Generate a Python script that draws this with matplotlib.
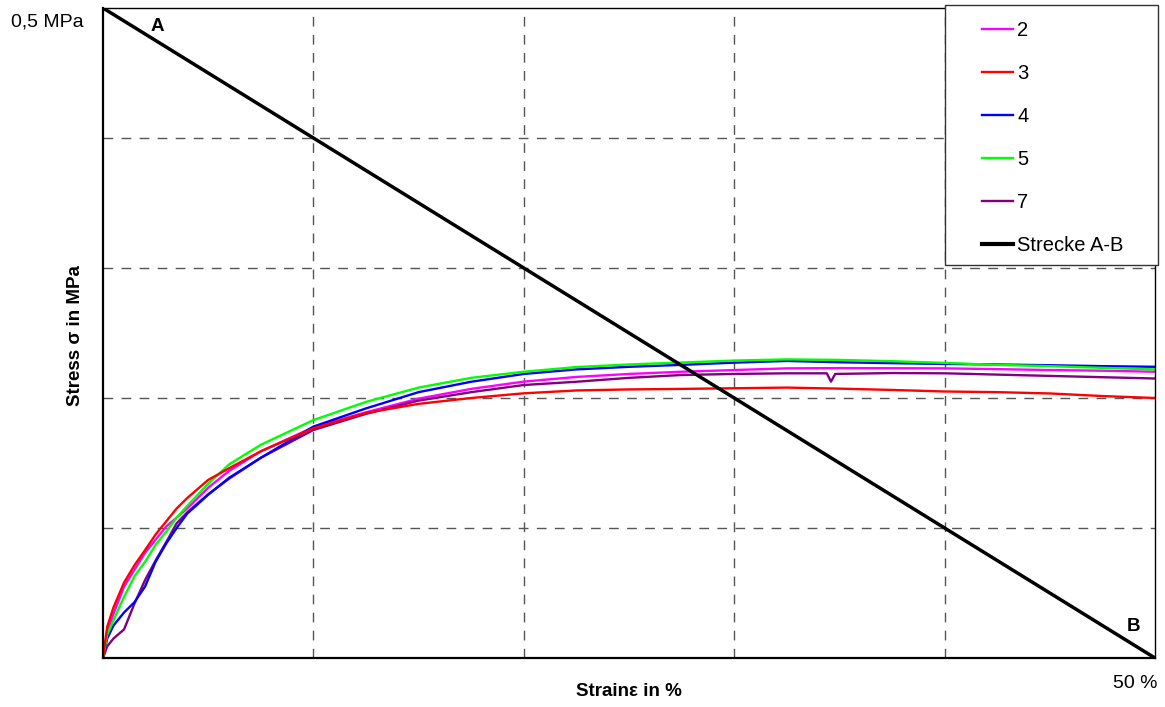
import matplotlib
matplotlib.use("Agg")
import matplotlib.pyplot as plt
from matplotlib.lines import Line2D
from matplotlib.patches import Rectangle

plt.rcParams["font.family"] = ["Liberation Sans", "DejaVu Sans"]

# Dehnung in %
strain = [0, 0.2, 0.5, 1, 1.5, 2, 2.5, 3, 3.5, 4, 5, 6, 7.5, 10, 12.5, 15, 17.5,
          20, 22.5, 25, 27.5, 30, 32.5, 35, 37.5, 40, 42.5, 45, 47.5, 50]

# Spannung in MPa je Probe
stress_2 = [0, 0.020, 0.034, 0.055, 0.068, 0.081, 0.091, 0.101, 0.108, 0.115,
            0.131, 0.144, 0.159, 0.1775, 0.189, 0.1995, 0.207, 0.2126, 0.2162,
            0.2185, 0.2202, 0.2215, 0.2228, 0.223, 0.2229, 0.2228, 0.2222,
            0.2215, 0.221, 0.2202]
stress_3 = [0, 0.024, 0.039, 0.058, 0.0715, 0.083, 0.095, 0.105, 0.115, 0.123,
            0.137, 0.146, 0.159, 0.1767, 0.1885, 0.1955, 0.200, 0.2036, 0.2058,
            0.2066, 0.207, 0.2075, 0.208, 0.2072, 0.2062, 0.205, 0.2045,
            0.2035, 0.2015, 0.200]
stress_4 = [0, 0.015, 0.025, 0.035, 0.043, 0.055, 0.074, 0.088, 0.100, 0.111,
            0.1256, 0.1387, 0.154, 0.178, 0.192, 0.2045, 0.2125, 0.2185, 0.222,
            0.224, 0.2255, 0.2272, 0.2285, 0.2275, 0.2268, 0.2262, 0.2258,
            0.2252, 0.2245, 0.224]
stress_5 = [0, 0.018, 0.029, 0.047, 0.063, 0.074, 0.087, 0.097, 0.108, 0.117,
            0.134, 0.149, 0.164, 0.183, 0.197, 0.208, 0.2155, 0.2202, 0.2238,
            0.2258, 0.2273, 0.2288, 0.2297, 0.2293, 0.2283, 0.227, 0.2255,
            0.2245, 0.2232, 0.222]

# Probe 7 mit kurzem Einbruch bei ca. 34,6 %
strain_7 = [0, 0.2, 0.5, 1, 1.5, 2, 2.5, 3, 3.5, 4, 5, 6, 7.5, 10, 12.5, 15, 17.5,
            20, 22.5, 25, 27.5, 30, 32.5, 34.4, 34.6, 34.8, 37.5, 40, 42.5, 45,
            47.5, 50]
stress_7 = [0, 0.009, 0.015, 0.022, 0.042, 0.060, 0.075, 0.089, 0.1036, 0.112,
            0.126, 0.138, 0.154, 0.1754, 0.1878, 0.198, 0.2045, 0.210, 0.2125,
            0.2155, 0.2177, 0.2185, 0.219, 0.219, 0.2126, 0.2185, 0.2192, 0.219,
            0.218, 0.217, 0.216, 0.215]

strecke_x = [0, 50]
strecke_y = [0.5, 0]

proben = ["2", "3", "4", "5", "7"]
farben = ["#FF00FF", "#FF0000", "#0000FF", "#00FF00", "#800080"]

fig = plt.figure(figsize=(11.65, 7.07), dpi=100)
ax = fig.add_axes([103 / 1165, 1 - 658 / 707, (1155 - 103) / 1165, (658 - 8) / 707])

ax.plot(strain, stress_2, color=farben[0], lw=1.7)
ax.plot(strain_7, stress_7, color=farben[4], lw=1.7)
ax.plot(strain, stress_4, color=farben[2], lw=1.7)
ax.plot(strain, stress_5, color=farben[3], lw=1.7)
ax.plot(strain, stress_3, color=farben[1], lw=1.7)
ax.plot(strecke_x, strecke_y, color="black", lw=2.5)

ax.set_xlim(0, 50)
ax.set_ylim(0, 0.5)
ax.set_xticks([10, 20, 30, 40])
ax.set_yticks([0.1, 0.2, 0.3, 0.4])
ax.tick_params(length=0, labelbottom=False, labelleft=False)
ax.grid(True, color="#555555", lw=1, linestyle=(0, (7, 6)))

for s in ["left", "bottom"]:
    ax.spines[s].set_linewidth(1.6)
for s in ["top", "right"]:
    ax.spines[s].set_linewidth(1.0)

ax.text(2.6, 0.486, "A", fontsize=13.5, fontweight="bold", ha="center", va="center")
ax.text(49.0, 0.024, "B", fontsize=13.5, fontweight="bold", ha="center", va="center")

fig.text(47 / 1165, 1 - 22 / 707, "0,5 MPa", fontsize=14, ha="center", va="center")
fig.text(1135 / 1165, 1 - 683 / 707, "50 %", fontsize=14, ha="center", va="center")
fig.text(629 / 1165, 1 - 691 / 707, "Strainε in %", fontsize=13.5, fontweight="bold",
         ha="center", va="center")
fig.text(75 / 1165, 1 - 336 / 707, "Stress σ in MPa", fontsize=13.5, fontweight="bold",
         ha="center", va="center", rotation=90)

# Legende
fig.patches.append(Rectangle((945 / 1165, 1 - 265 / 707), 213 / 1165, 260 / 707,
                             transform=fig.transFigure, facecolor="white",
                             edgecolor="#333333", lw=1, zorder=5))
handles = [Line2D([], [], color=c, lw=1.7) for c in farben]
handles.append(Line2D([], [], color="black", lw=3))
leg = fig.legend(handles, proben + ["Strecke A-B"], loc="upper left",
                 bbox_to_anchor=(964 / 1165, 1 - 2.5 / 707), frameon=False,
                 fontsize=14.5, handlelength=1.54, handletextpad=0.2,
                 labelspacing=1.2)
leg.set_zorder(6)

fig.savefig("out.png", dpi=100)
